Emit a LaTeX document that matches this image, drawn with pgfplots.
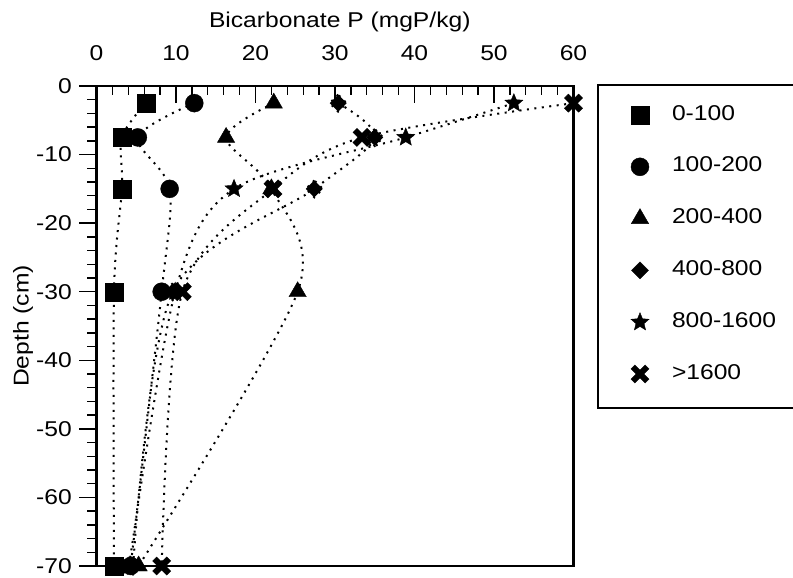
\documentclass[border=0pt]{standalone}
\usepackage{fontspec}
\setmainfont{Liberation Sans}[FakeStretch=1.15]
\usepackage{pgfplots}
\pgfplotsset{compat=1.18}

% filled five-pointed star
\pgfdeclareplotmark{fstar}{%
  \pgfpathmoveto{\pgfpointpolar{90}{\pgfplotmarksize}}%
  \pgfpathlineto{\pgfpointpolar{126}{0.45\pgfplotmarksize}}%
  \pgfpathlineto{\pgfpointpolar{162}{\pgfplotmarksize}}%
  \pgfpathlineto{\pgfpointpolar{198}{0.45\pgfplotmarksize}}%
  \pgfpathlineto{\pgfpointpolar{234}{\pgfplotmarksize}}%
  \pgfpathlineto{\pgfpointpolar{270}{0.45\pgfplotmarksize}}%
  \pgfpathlineto{\pgfpointpolar{306}{\pgfplotmarksize}}%
  \pgfpathlineto{\pgfpointpolar{342}{0.45\pgfplotmarksize}}%
  \pgfpathlineto{\pgfpointpolar{18}{\pgfplotmarksize}}%
  \pgfpathlineto{\pgfpointpolar{54}{0.45\pgfplotmarksize}}%
  \pgfpathclose
  \pgfusepathqfillstroke
}
% heavy diagonal cross
\pgfdeclareplotmark{bx}{%
  \pgfscope
  \pgftransformrotate{45}%
  \pgfpathmoveto{\pgfpoint{0.28\pgfplotmarksize}{0.28\pgfplotmarksize}}%
  \pgfpathlineto{\pgfpoint{0.28\pgfplotmarksize}{\pgfplotmarksize}}%
  \pgfpathlineto{\pgfpoint{-0.28\pgfplotmarksize}{\pgfplotmarksize}}%
  \pgfpathlineto{\pgfpoint{-0.28\pgfplotmarksize}{0.28\pgfplotmarksize}}%
  \pgfpathlineto{\pgfpoint{-\pgfplotmarksize}{0.28\pgfplotmarksize}}%
  \pgfpathlineto{\pgfpoint{-\pgfplotmarksize}{-0.28\pgfplotmarksize}}%
  \pgfpathlineto{\pgfpoint{-0.28\pgfplotmarksize}{-0.28\pgfplotmarksize}}%
  \pgfpathlineto{\pgfpoint{-0.28\pgfplotmarksize}{-\pgfplotmarksize}}%
  \pgfpathlineto{\pgfpoint{0.28\pgfplotmarksize}{-\pgfplotmarksize}}%
  \pgfpathlineto{\pgfpoint{0.28\pgfplotmarksize}{-0.28\pgfplotmarksize}}%
  \pgfpathlineto{\pgfpoint{\pgfplotmarksize}{-0.28\pgfplotmarksize}}%
  \pgfpathlineto{\pgfpoint{\pgfplotmarksize}{0.28\pgfplotmarksize}}%
  \pgfpathclose
  \pgfusepathqfillstroke
  \endpgfscope
}
\newcommand{\legsp}{\hspace*{10bp}}

\begin{document}
\begin{tikzpicture}[font=\fontsize{21.5}{25}\selectfont]
\useasboundingbox (-96.5bp,-12bp) rectangle (696.5bp,566bp);
\begin{axis}[
  at={(0,0)}, anchor=south west,
  scale only axis, width=477bp, height=480bp,
  xmin=0, xmax=60, ymin=-70, ymax=0,
  xtick={0,10,...,60}, ytick={-70,-60,...,0},
  minor x tick num=4, minor y tick num=4,
  xtick pos=right, xticklabel pos=right, ytick pos=left,
  tick align=inside,
  major tick length=17bp, minor tick length=9bp,
  tick style={line width=1.3bp, black},
  major y tick style={xshift=-17bp},
  minor y tick style={xshift=-9bp},
  axis line style={line width=2.6bp},
  /pgf/number format/assume math mode=true,
  xticklabel style={anchor=base, inner sep=0pt, yshift=25bp},
  yticklabel style={anchor=east, inner sep=0pt, xshift=-24.5bp},
  xlabel={Bicarbonate P (mgP/kg)},
  ylabel={Depth (cm)},
  xlabel style={at={(rel axis cs:0.51,1.121)}, anchor=base, inner sep=0pt},
  ylabel style={at={(rel axis cs:-0.154,0.5)}, anchor=center, inner sep=0pt},
  clip=false,
  every axis plot/.append style={black, line width=2bp,
    dash pattern=on 2bp off 5.5bp, smooth,
    mark options={solid, fill=black, line width=0.4bp}},
  legend cell align=left,
  legend image code/.code={%
    \path[draw=none, fill=none] (0bp,-20bp) rectangle (32bp,20bp);
    \draw[#1, only marks, solid, line width=0.4bp]
      plot coordinates {(10bp,-2.5bp)};},
  legend style={at={(rel axis cs:1,1)}, anchor=north west,
    xshift=56.5bp, yshift=-6.5bp, draw=none, fill=none,
    inner sep=0pt, outer sep=0pt, row sep=11.8bp,
    nodes={inner sep=0pt, text height=15bp, text depth=0bp}},
]
\addplot[mark=square*, mark size=9bp] coordinates
  {(6.2,-2.5) (3.2,-7.5) (3.2,-15) (2.2,-30) (2.2,-70)};
\addlegendentry{\legsp 0-100}
\addplot[mark=*, mark size=9bp] coordinates
  {(12.3,-2.5) (5.2,-7.5) (9.2,-15) (8.2,-30) (4.3,-70)};
\addlegendentry{\legsp 100-200}
\addplot[mark=triangle*, mark size=10bp] coordinates
  {(22.3,-2.5) (16.3,-7.5) (22.0,-15) (25.3,-30) (5.3,-70)};
\addlegendentry{\legsp 200-400}
\addplot[mark=square*, mark size=6bp, mark options={rotate=45}] coordinates
  {(30.4,-2.5) (35.0,-7.5) (27.4,-15) (9.6,-30) (4.6,-70)};
\addlegendentry{\legsp 400-800}
\addplot[mark=fstar, mark size=9.5bp] coordinates
  {(52.5,-2.5) (38.9,-7.5) (17.3,-15) (9.9,-30) (4.1,-70)};
\addlegendentry{\legsp 800-1600}
\addplot[mark=bx, mark size=10bp] coordinates
  {(60,-2.5) (33.4,-7.5) (22.2,-15) (10.8,-30) (8.2,-70)};
\addlegendentry{\legsp >1600}
\end{axis}
\draw[line width=2bp] (501.5bp,481bp) rectangle (705bp,158bp);
\end{tikzpicture}
\end{document}
